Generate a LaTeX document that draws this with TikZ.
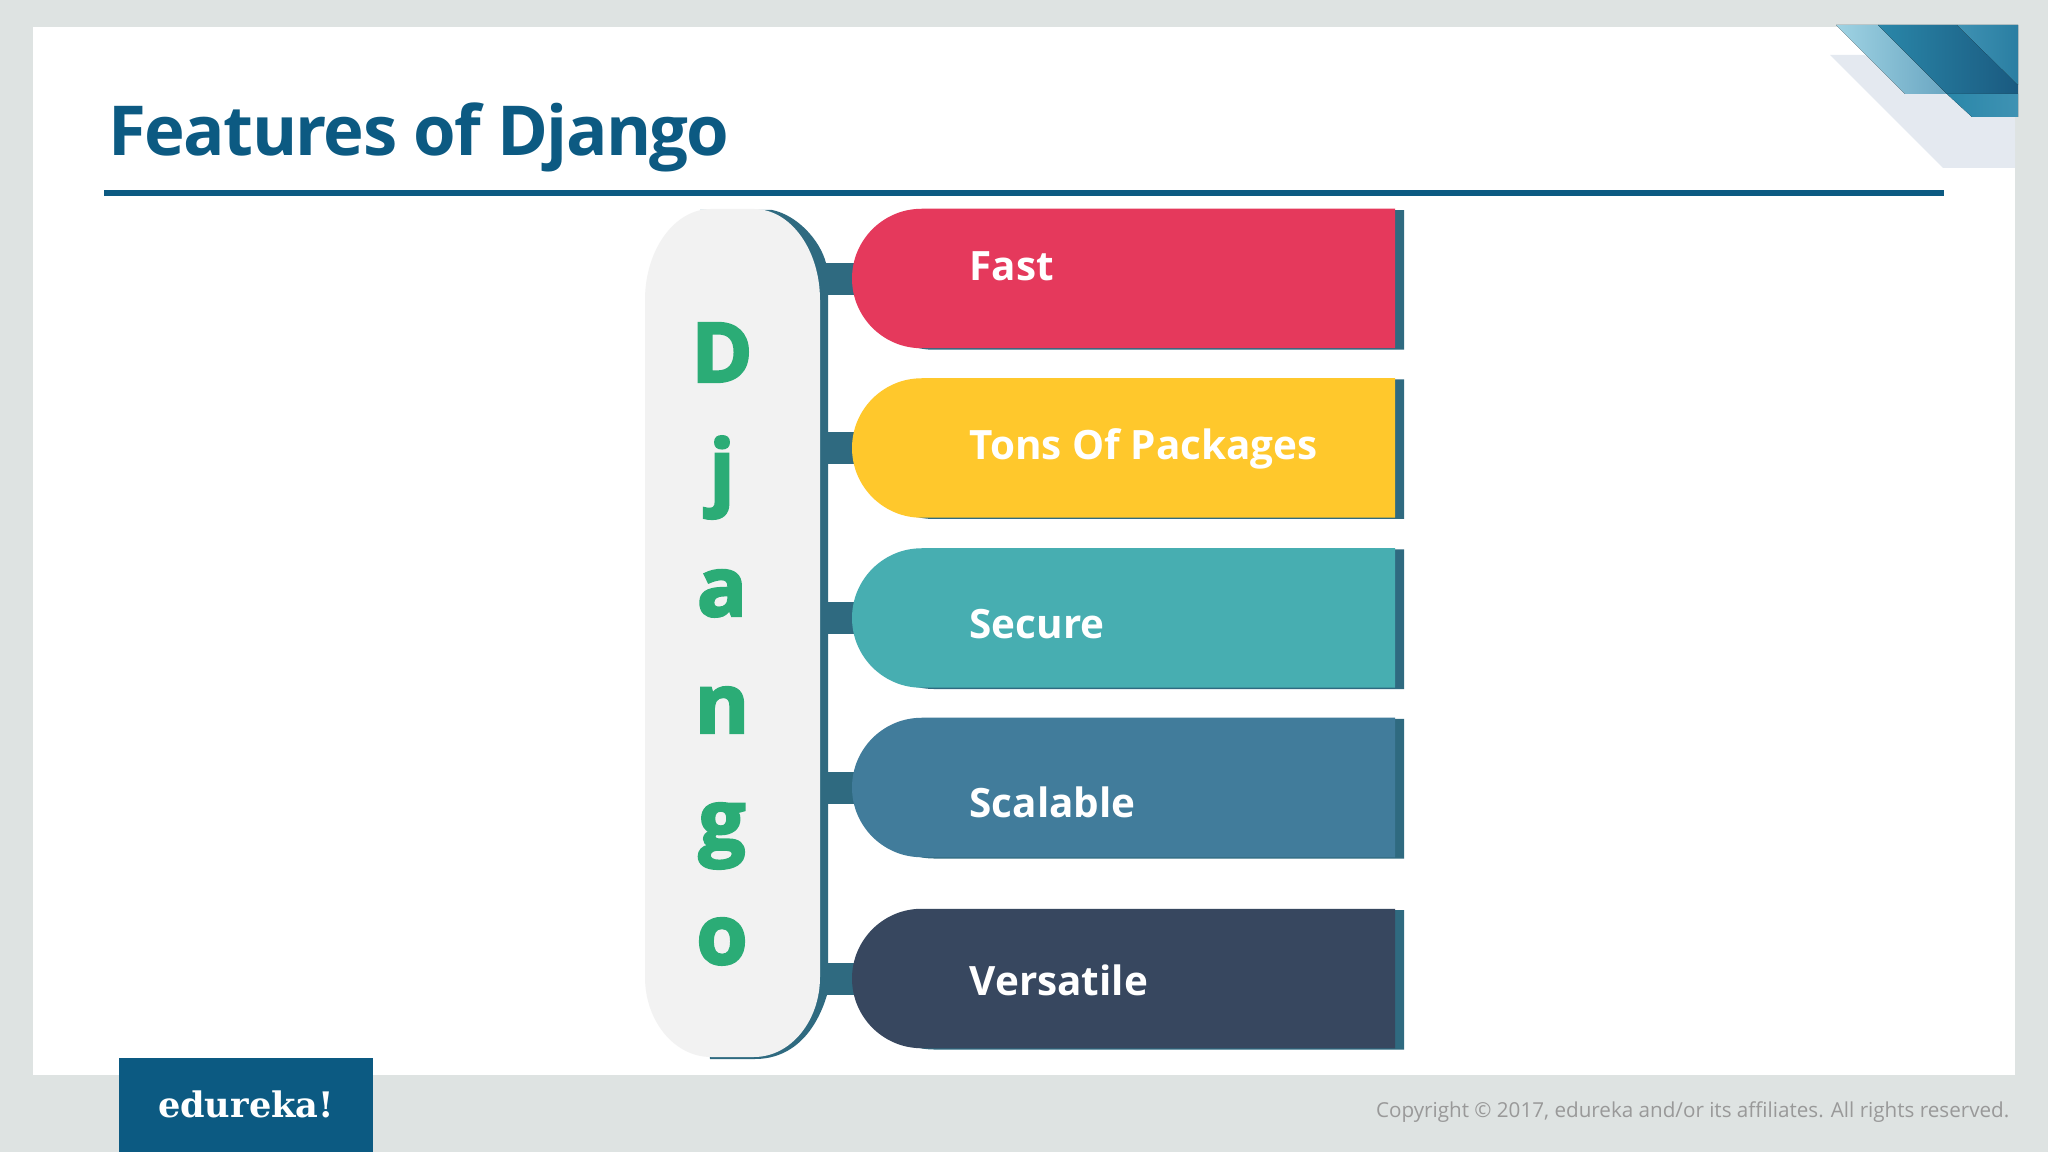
\documentclass[tikz,border=0pt]{standalone}
\usepackage{fontspec}
\setmainfont{Open Sans}
\newfontfamily\logofont{DejaVu Serif}
\newfontfamily\heavyfont[FakeBold=3]{Open Sans}
\newfontfamily\titlefont[LetterSpace=-2.4]{Open Sans}
\usetikzlibrary{shapes.misc}
\definecolor{pagegray}{HTML}{DEE3E2}
\definecolor{edublue}{HTML}{0C5A82}
\definecolor{spineblue}{HTML}{2F6A80}
\definecolor{pillgray}{HTML}{F2F2F2}
\definecolor{letgreen}{HTML}{2BAC76}
\definecolor{fastred}{HTML}{E5395C}
\definecolor{packyellow}{HTML}{FFC82C}
\definecolor{secureteal}{HTML}{47AEB1}
\definecolor{scaleblue}{HTML}{417C9B}
\definecolor{versanavy}{HTML}{37475F}
\definecolor{accentshade}{HTML}{E4E9F0}
\definecolor{accentlighta}{HTML}{9FD3E3}
\definecolor{accentlightb}{HTML}{6AA6C2}
\definecolor{accentdarka}{HTML}{2A87A9}
\definecolor{accentdarkb}{HTML}{1A5A80}
\definecolor{accentmida}{HTML}{3F92B3}
\definecolor{accentmidb}{HTML}{2A7EA2}
\tikzset{
	barback/.style={rounded rectangle, rounded rectangle east arc=none, fill=spineblue, minimum width=5.40cm, minimum height=1.395cm, inner sep=0pt},
	featurebar/.style={rounded rectangle, rounded rectangle east arc=none, minimum width=5.43cm, minimum height=1.395cm, inner sep=0pt},
	featurelabel/.style={anchor=base west, inner sep=0pt, text=white, font=\fontsize{11.5}{14}\bfseries},
	bigletter/.style={anchor=base, inner sep=0pt, text=letgreen, font=\fontsize{23.5}{28}\heavyfont\bfseries},
	stub/.style={line width=0.32cm, spineblue}
}

\begin{document}
\begin{tikzpicture}
	% page
	\fill[pagegray] (0,0) rectangle (20.48,-11.52);
	\fill[white] (0.33,-0.27) rectangle (20.15,-10.75);

	% corner accent
	\fill[accentshade] (18.30,-0.55) -- (18.64,-0.55) -- (20.15,-1.17) -- (20.15,-1.68) -- (19.43,-1.68) -- cycle;
	\fill[left color=accentlighta, right color=accentlightb] (18.36,-0.25) -- (18.78,-0.25) -- (19.47,-0.94) -- (19.05,-0.94) -- cycle;
	\fill[left color=accentdarka, right color=accentdarkb] (18.78,-0.25) -- (19.57,-0.25) -- (20.18,-0.85) -- (20.18,-0.94) -- (19.47,-0.94) -- cycle;
	\fill[left color=accentmida, right color=accentmidb] (19.57,-0.25) -- (20.18,-0.25) -- (20.18,-0.85) -- cycle;
	\fill[left color=accentdarka, right color=accentmida] (19.47,-0.94) -- (20.18,-0.94) -- (20.18,-1.17) -- (19.72,-1.17) -- cycle;

	% title
	\node[anchor=base west, inner sep=0pt, text=edublue, font=\fontsize{19.6}{25}\titlefont\bfseries] (title) at (1.08,-1.56) {Features of Django};
	\fill[edublue] (1.04,-1.90) rectangle (19.44,-1.965);

	% back shapes
	\node[barback] (fastback) at (11.34,-2.8) {};
	\node[barback] (packback) at (11.34,-4.4925) {};
	\node[barback] (secureback) at (11.34,-6.1925) {};
	\node[barback] (scaleback) at (11.34,-7.8875) {};
	\node[barback] (versaback) at (11.34,-9.7975) {};
	\fill[spineblue] (7.0,-2.10) -- (7.72,-2.10) .. controls (7.97,-2.15) and (8.2,-2.4) .. (8.26,-2.63) -- (8.28,-2.95) -- (8.28,-9.63) -- (8.27,-9.95) .. controls (8.15,-10.35) and (7.9,-10.59) .. (7.55,-10.59) -- (7.1,-10.59) -- cycle;

	% connectors
	\coordinate (spinefast) at (8.2,-2.79);
	\coordinate (spinepack) at (8.2,-4.485);
	\coordinate (spinesecure) at (8.2,-6.185);
	\coordinate (spinescale) at (8.2,-7.88);
	\coordinate (spineversa) at (8.2,-9.79);
	\draw[stub] (spinefast) -- (fastback.west |- spinefast);
	\draw[stub] (spinepack) -- (packback.west |- spinepack);
	\draw[stub] (spinesecure) -- (secureback.west |- spinesecure);
	\draw[stub] (spinescale) -- (scaleback.west |- spinescale);
	\draw[stub] (spineversa) -- (versaback.west |- spineversa);

	% bars
	\node[featurebar, fill=fastred] (fast) at (11.235,-2.785) {};
	\node[featurebar, fill=packyellow] (pack) at (11.235,-4.48) {};
	\node[featurebar, fill=secureteal] (secure) at (11.235,-6.18) {};
	\node[featurebar, fill=scaleblue] (scale) at (11.235,-7.875) {};
	\node[featurebar, fill=versanavy] (versa) at (11.235,-9.785) {};

	% labels
	\node[featurelabel] (fastlabel) at (9.69,-2.805) {Fast};
	\node[featurelabel] (packlabel) at (9.69,-4.60) {Tons Of Packages};
	\node[featurelabel] (securelabel) at (9.69,-6.38) {Secure};
	\node[featurelabel] (scalelabel) at (9.69,-8.175) {Scalable};
	\node[featurelabel] (versalabel) at (9.69,-9.955) {Versatile};

	% django column
	\fill[pillgray] (6.45,-3.0) arc[start angle=180, end angle=90, x radius=0.66, y radius=0.91] -- (7.54,-2.09) arc[start angle=90, end angle=0, x radius=0.66, y radius=0.91] -- (8.20,-9.77) arc[start angle=0, end angle=-90, x radius=0.66, y radius=0.80] -- (7.11,-10.57) arc[start angle=-90, end angle=-180, x radius=0.66, y radius=0.80] -- cycle;
	\node[bigletter] (letd) at (7.22,-3.82) {D};
	\node[bigletter] (letj) at (7.22,-4.99) {j};
	\node[bigletter] (leta) at (7.22,-6.16) {a};
	\node[bigletter] (letn) at (7.22,-7.33) {n};
	\node[bigletter] (letg) at (7.22,-8.49) {g};
	\node[bigletter] (leto) at (7.22,-9.64) {o};

	% footer
	\fill[edublue] (1.19,-10.58) rectangle (3.73,-11.52);
	\node[anchor=base, inner sep=0pt, text=white, font=\fontsize{10}{13}\logofont\bfseries] (logo) at (2.46,-11.17) {edureka!};
	\node[anchor=base east, inner sep=0pt, text=black!40, font=\fontsize{5.87}{8}\selectfont] (copyright) at (20.10,-11.17) {Copyright © 2017, edureka and/or its affiliates. All rights reserved.};
\end{tikzpicture}
\end{document}
